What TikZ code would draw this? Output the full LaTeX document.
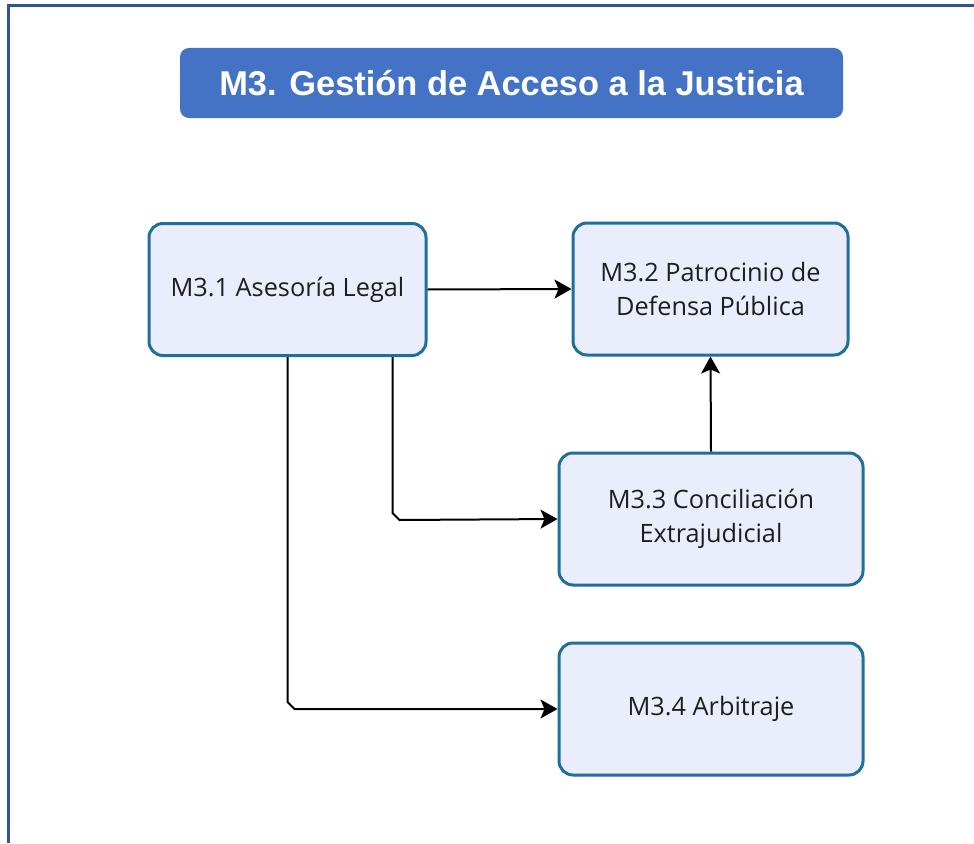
\documentclass[tikz,border=0pt]{standalone}
\usepackage{fontspec}
\setmainfont{Open Sans}
\newfontfamily\titlefont{Liberation Sans}
\usetikzlibrary{arrows.meta,positioning}
\definecolor{framecol}{RGB}{47,85,151}
\definecolor{titlecol}{RGB}{68,114,196}
\definecolor{boxline}{RGB}{31,110,155}
\definecolor{boxfill}{RGB}{234,238,252}
\definecolor{txtcol}{RGB}{30,30,30}

\begin{document}
\begin{tikzpicture}[x=1pt,y=-1pt,
  titlebox/.style={rectangle, rounded corners=9pt, fill=titlecol, text=white,
    minimum width=663pt, minimum height=70pt, inner sep=0pt,
    font=\titlefont\bfseries\fontsize{34.4}{40}\selectfont},
  modbox/.style={rectangle, rounded corners=14pt, draw=boxline, line width=3pt,
    fill=boxfill, text=txtcol, align=center, minimum height=132pt, inner sep=0pt,
    font=\fontsize{25.3}{33.5}\selectfont},
  arr/.style={draw=black, line width=2pt, -{Stealth[length=17pt,width=19pt,inset=4pt]}}]
\useasboundingbox (0,0) rectangle (974,843);
\draw[framecol, line width=3pt] (8,843) -- (8,6) -- (974,6);
\node [titlebox] (title) at (511.5,83) {M3. Gestión de Acceso a la Justicia};
\node [modbox, minimum width=277pt] (m31) at (287.5,289.5) {M3.1 Asesoría Legal};
\node [modbox, minimum width=275pt] (m32) at (710.5,289) {M3.2 Patrocinio de\\Defensa Pública};
\node [modbox, minimum width=304pt] (m33) at (711,519) {M3.3 Conciliación\\Extrajudicial};
\node [modbox, minimum width=304pt] (m34) at (711,709) {M3.4 Arbitraje};
\draw [arr] (m31.east) -- (m32.west);
\draw [arr] (m33.north) -- (m32.south);
\draw [arr] ([xshift=105pt]m31.south) -- ++(0,156) -- ++(7,7) -- (m33.west);
\draw [arr] (m31.south) -- ++(0,345) -- ++(7,7) -- (m34.west);
\end{tikzpicture}
\end{document}
